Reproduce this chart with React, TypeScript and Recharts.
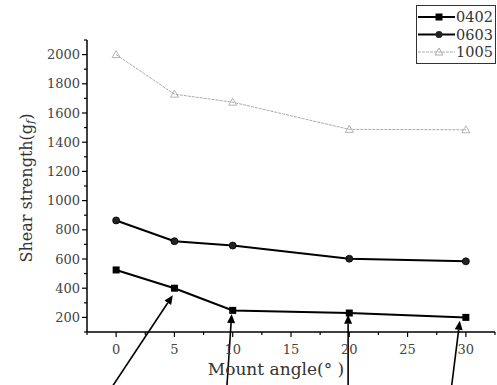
import React from 'react';
import { LineChart, Line, XAxis, YAxis, ReferenceLine } from 'recharts';

const angles = [0, 5, 10, 20, 30];
const s0402 = [525, 400, 248, 230, 200];
const s0603 = [864, 722, 692, 602, 584];
const s1005 = [2000, 1729, 1674, 1488, 1485];
const xTicks = [-2.5, 0, 2.5, 5, 7.5, 10, 12.5, 15, 17.5, 20, 22.5, 25, 27.5, 30, 32.5];
const yTicks = [100, 200, 300, 400, 500, 600, 700, 800, 900, 1000, 1100, 1200, 1300, 1400, 1500, 1600, 1700, 1800, 1900, 2000, 2100];
// arrows: [startX, startY, tipX, tipY]
const arrows = [
  [-0.35, -276, 4.86, 352],
  [9.5, -276, 9.91, 223],
  [19.9, -276, 19.9, 219],
  [28.77, -276, 29.48, 177],
];

const data = angles.map((a, i) => ({ x: a, a: s0402[i], b: s0603[i], c: s1005[i] }));

const FONT = '"DejaVu Serif", "Liberation Serif", serif';

const XTick = (props: any) => {
  const { x, y, payload } = props;
  const v = payload.value;
  const major = v % 5 === 0;
  return (
    <g>
      <line x1={x} y1={y} x2={x} y2={y + (major ? 5 : 3)} stroke="#000" strokeWidth={1.2} />
      {major && (
        <text x={x} y={y + 12} textAnchor="middle" dominantBaseline="hanging" fontFamily={FONT} fontSize={13} fill="#444">{v}</text>
      )}
    </g>
  );
};

const YTick = (props: any) => {
  const { x, y, payload } = props;
  const v = payload.value;
  const major = v % 200 === 0;
  return (
    <g>
      <line x1={x - (major ? 5 : 3)} y1={y} x2={x} y2={y} stroke="#000" strokeWidth={1.2} />
      {major && (
        <text x={x - 7} y={y} textAnchor="end" dominantBaseline="central" fontFamily={FONT} fontSize={13} fill="#444">{v}</text>
      )}
    </g>
  );
};

const ArrowShape = (props: any) => {
  const { x1, y1, x2, y2 } = props;
  if ([x1, y1, x2, y2].some((v) => v === undefined || isNaN(v))) return null;
  const dx = x2 - x1, dy = y2 - y1;
  const len = Math.sqrt(dx * dx + dy * dy);
  const ux = dx / len, uy = dy / len;
  const hl = 9, hw = 4;
  const bx = x2 - ux * hl, by = y2 - uy * hl;
  const px = -uy, py = ux;
  return (
    <g>
      <line x1={x1} y1={y1} x2={bx} y2={by} stroke="#000" strokeWidth={1.6} />
      <polygon points={`${x2},${y2} ${bx + px * hw},${by + py * hw} ${bx - px * hw},${by - py * hw}`} fill="#000" />
    </g>
  );
};

const Square = (props: any) => {
  const { cx, cy } = props;
  if (cx == null || cy == null) return null;
  return <rect x={cx - 3.5} y={cy - 3.5} width={7} height={7} fill="#000" />;
};
const Dot = (props: any) => {
  const { cx, cy } = props;
  if (cx == null || cy == null) return null;
  return <circle cx={cx} cy={cy} r={3.5} fill="#222" stroke="#000" strokeWidth={0.8} />;
};
const Tri = (props: any) => {
  const { cx, cy } = props;
  if (cx == null || cy == null) return null;
  return <polygon points={`${cx},${cy - 4} ${cx - 4},${cy + 3} ${cx + 4},${cy + 3}`} fill="none" stroke="#aaa" strokeWidth={0.9} />;
};

const YLabel = () => {
  const x = 26, y = 188;
  return (
    <text x={x} y={y} transform={`rotate(-90 ${x} ${y})`} textAnchor="middle" dominantBaseline="central" fontFamily={FONT} fontSize={16} fill="#333">
      Shear strength(g<tspan fontStyle="italic" fontSize={11} dy={4}>f</tspan><tspan dy={-4}>)</tspan>
    </text>
  );
};

const LegendBox = () => {
  const rows = [
    { label: '0402', kind: 'sq' },
    { label: '0603', kind: 'ci' },
    { label: '1005', kind: 'tr' },
  ];
  return (
    <svg width={81} height={60} style={{ position: 'absolute', left: 416, top: 5 }}>
      <rect x={0.5} y={0.5} width={79} height={58} fill="#fff" stroke="#333" strokeWidth={1} />
      {rows.map((r, i) => {
        const y = 12 + i * 17.5;
        const gray = r.kind === 'tr';
        return (
          <g key={r.label}>
            <line x1={2} y1={y} x2={39} y2={y} stroke={gray ? '#aaa' : '#000'} strokeWidth={gray ? 1 : 1.8} strokeDasharray={gray ? '3 1' : undefined} />
            {r.kind === 'sq' && <rect x={19.5} y={y - 3.5} width={7} height={7} fill="#000" />}
            {r.kind === 'ci' && <circle cx={23} cy={y} r={3.5} fill="#222" />}
            {r.kind === 'tr' && <polygon points={`23,${y - 4} 19,${y + 3} 27,${y + 3}`} fill="none" stroke="#aaa" />}
            <text x={40} y={y} dominantBaseline="central" fontFamily={FONT} fontSize={14.5} fill="#333">{r.label}</text>
          </g>
        );
      })}
    </svg>
  );
};

export default function App() {
  return (
    <div style={{ position: 'absolute', left: 0, top: 0, width: 497, height: 385, background: '#fff' }}>
      <LineChart width={497} height={385} data={data} margin={{ top: 40, right: 2, bottom: 0, left: 0 }}>
        <XAxis dataKey="x" type="number" domain={[-2.5, 32.5]} ticks={xTicks} interval={0} tickSize={0} tickMargin={0} axisLine={{ stroke: '#000', strokeWidth: 1.5 }} tickLine={false} tick={<XTick />} height={53} />
        <YAxis type="number" domain={[100, 2100]} ticks={yTicks} interval={0} tickSize={0} tickMargin={0} axisLine={{ stroke: '#000', strokeWidth: 1.5 }} tickLine={false} tick={<YTick />} width={87} />
        <Line dataKey="c" stroke="#aaa" strokeWidth={1} strokeDasharray="3 1" dot={<Tri />} isAnimationActive={false} />
        <Line dataKey="b" stroke="#000" strokeWidth={2} dot={<Dot />} isAnimationActive={false} />
        <Line dataKey="a" stroke="#000" strokeWidth={2} dot={<Square />} isAnimationActive={false} />
        {arrows.map((a, i) => (
          <ReferenceLine key={i} segment={[{ x: a[0], y: a[1] }, { x: a[2], y: a[3] }]} ifOverflow="visible" shape={<ArrowShape />} />
        ))}
      </LineChart>
      <svg width={497} height={385} style={{ position: 'absolute', left: 0, top: 0, pointerEvents: 'none' }}>
        <YLabel />
        <text x={276} y={369} textAnchor="middle" dominantBaseline="central" fontFamily={FONT} fontSize={17} fill="#333">
          Mount angle(°  )
        </text>
      </svg>
      <LegendBox />
    </div>
  );
}
